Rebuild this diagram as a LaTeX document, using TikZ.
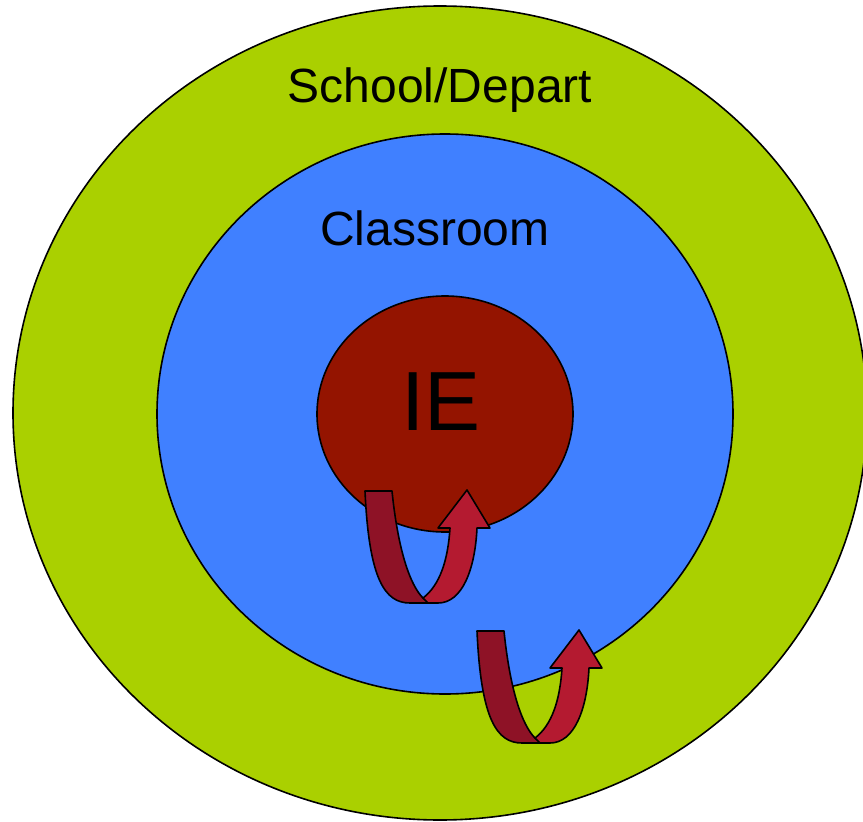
\documentclass[tikz,border=0pt]{standalone}
\usepackage{fontspec}
\setmainfont{Liberation Sans}
\definecolor{schoolgreen}{RGB}{170,208,0}
\definecolor{classblue}{RGB}{64,128,255}
\definecolor{iered}{RGB}{148,20,0}
\definecolor{banddark}{RGB}{142,18,38}
\definecolor{bandlight}{RGB}{180,26,48}
\begin{document}
\begin{tikzpicture}[
  x=1pt, y=-1pt,
  ring/.style={draw=black, line width=1.6pt},
  band/.style={draw=black, line width=1.6pt, line join=round},
  label/.style={anchor=base, inner sep=0pt, font=\fontsize{48}{56}\selectfont}
]
\useasboundingbox (0,0) rectangle (863,822);

% nested circles
\draw[ring, fill=schoolgreen] (440,413) ellipse [x radius=427pt, y radius=407pt];
\draw[ring, fill=classblue]   (445,414) ellipse [x radius=288pt, y radius=280pt];
\draw[ring, fill=iered]       (445,414) ellipse [x radius=128pt, y radius=118pt];

\node[label] (school) at (440,102) {School/Depart};
\node[label] (class)  at (435,245) {Classroom};
\node[label, font=\fontsize{84}{96}\selectfont] (ie) at (441,430) {IE};

% u-turn arrows
\foreach \dx/\dy in {0/0, 112/140} {
  \begin{scope}[shift={(\dx,\dy)}]
    \draw[band, fill=banddark] (365,491) -- (392,491)
      .. controls (398,550) and (410,585) .. (423,598)
      -- (430,603) -- (410,603)
      .. controls (385,603) and (369,580) .. (365,491) -- cycle;
    \draw[band, fill=bandlight] (423,598) -- (428,603) -- (438,603)
      .. controls (462,603) and (475,570) .. (477,528)
      -- (490,528) -- (467,490) -- (438,528) -- (450,528)
      .. controls (448,560) and (440,585) .. (423,598) -- cycle;
  \end{scope}
}
\end{tikzpicture}
\end{document}
